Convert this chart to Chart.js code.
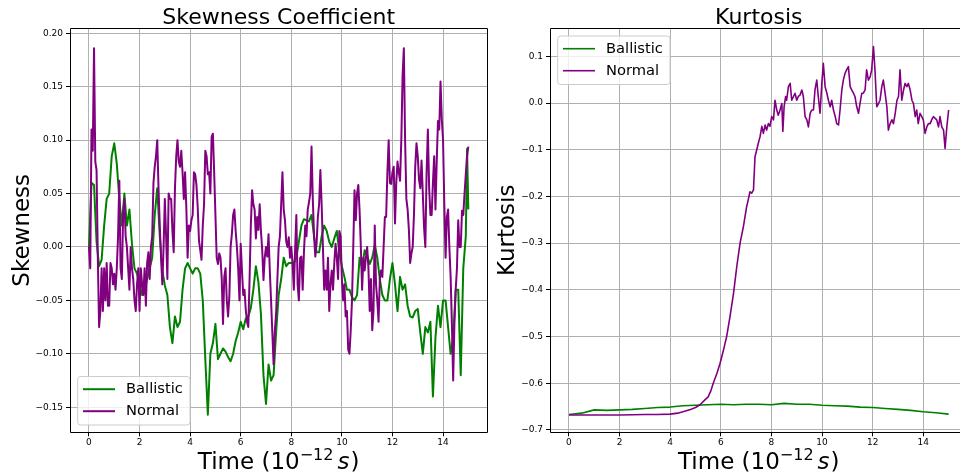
<!DOCTYPE html>
<html><head><meta charset="utf-8">
<script src="https://cdn.jsdelivr.net/npm/chart.js@4.4.0/dist/chart.umd.min.js"></script>
<style>
html,body{margin:0;padding:0;background:#fff;overflow:hidden;}
#wrap{position:relative;width:960px;height:474px;overflow:hidden;background:#fff;}
canvas{position:absolute;top:0;}
</style></head><body>
<div id="wrap">
<canvas id="c1" width="490" height="474" style="left:0;width:490px;height:474px"></canvas>
<canvas id="c2" width="480" height="474" style="left:490px;width:480px;height:474px"></canvas>
</div>
<script>
const FAMILY = "'DejaVu Sans', 'Liberation Sans', sans-serif";

// ---------- tick labels ----------
const xTickValues = [0, 2, 4, 6, 8, 10, 12, 14];
const xTickLabels = ['0', '2', '4', '6', '8', '10', '12', '14'];
const skewTickValues = [-0.15, -0.10, -0.05, 0.00, 0.05, 0.10, 0.15, 0.20];
const skewTickLabels = ['\u22120.15', '\u22120.10', '\u22120.05', '0.00', '0.05', '0.10', '0.15', '0.20'];
const kurtTickValues = [-0.7, -0.6, -0.5, -0.4, -0.3, -0.2, -0.1, 0.0, 0.1];
const kurtTickLabels = ['\u22120.7', '\u22120.6', '\u22120.5', '\u22120.4', '\u22120.3', '\u22120.2', '\u22120.1', '0.0', '0.1'];

// ---------- series ----------
const seriesNames = ['Ballistic', 'Normal'];
const seriesColors = ['#008000', '#800080'];

// Normal skewness, sampled every 0.05 (t = 0 ... 15)
const normalSkewStep = 0.05;
const normalSkew = [
  0.0, -0.02, 0.11, 0.09, 0.186, 0.08, 0.072, -0.01, -0.075, -0.06, -0.02, -0.06, -0.02, -0.05, -0.015, -0.055, -0.055, -0.015, -0.02, -0.035, -0.025,
  -0.04, -0.02, 0.01, 0.062, -0.02, -0.03, 0.03, 0.045, 0.01, 0.0, -0.02, -0.04, 0.0, -0.02, -0.03, -0.05, -0.06, -0.035, -0.02, -0.06,
  -0.02, -0.035, -0.045, -0.02, -0.055, -0.015, -0.005, -0.03, 0.0, 0.01, 0.06, 0.075, 0.085, 0.10, 0.055, 0.02, -0.01, -0.035, 0.0, 0.045,
  0.01, -0.03, 0.05, 0.045, 0.045, 0.015, -0.005, 0.055, 0.085, 0.10, 0.08, 0.075, 0.09, 0.07, 0.045, 0.07, 0.037, -0.01, 0.02, 0.015,
  0.025, 0.03, 0.07, 0.068, 0.058, 0.037, 0.006, -0.003, -0.012, 0.02, 0.04, 0.09, 0.085, 0.068, 0.07, 0.05, 0.103, 0.106, 0.07, 0.03,
  -0.01, -0.016, -0.006, -0.01, -0.03, -0.072, -0.028, -0.02, -0.05, -0.065, -0.047, 0.0, 0.012, 0.03, 0.035, 0.015, 0.0, -0.02, -0.05, 0.003,
  -0.022, -0.045, -0.04, -0.059, -0.07, -0.075, -0.03, 0.02, 0.053, 0.04, 0.035, 0.008, 0.028, 0.016, 0.04, 0.015, -0.003, -0.031, -0.01, 0.0,
  -0.009, 0.012, -0.022, -0.05, -0.08, -0.11, -0.078, -0.062, -0.03, 0.0, 0.01, 0.04, 0.07, 0.035, 0.025, 0.005, 0.0, 0.009, -0.01, 0.0,
  -0.015, -0.04, -0.003, 0.03, -0.035, -0.05, -0.01, -0.009, -0.04, -0.005, 0.02, 0.01, 0.035, 0.042, 0.05, 0.094, 0.045, 0.01, -0.009, 0.003,
  0.028, 0.04, 0.072, 0.04, 0.0, -0.04, -0.022, -0.04, -0.01, -0.06, -0.035, -0.022, -0.04, -0.015, 0.003, -0.01, -0.03, 0.015, 0.01, -0.03,
  -0.05, -0.035, -0.065, -0.06, -0.096, -0.1, -0.078, -0.05, 0.0, 0.053, 0.025, 0.05, 0.058, 0.034, 0.0, -0.04, -0.01, -0.022, -0.01, 0.0,
  -0.02, -0.06, -0.03, -0.078, -0.06, 0.02, -0.035, -0.05, -0.07, -0.03, -0.022, -0.028, 0.0, 0.028, 0.028, 0.07, 0.1, 0.06, 0.059, 0.07,
  0.075, 0.022, 0.06, 0.08, 0.07, 0.062, 0.1, 0.16, 0.186, 0.1, 0.045, 0.035, 0.016, -0.015, -0.006, 0.0, 0.03, 0.075, 0.097, 0.085,
  0.063, 0.055, 0.081, 0.05, 0.018, 0.0, 0.07, 0.11, 0.056, 0.03, 0.03, 0.06, 0.085, 0.035, 0.08, 0.118, 0.11, 0.155, 0.12, 0.1,
  0.04, -0.01, 0.028, 0.035, 0.0, -0.028, -0.072, -0.125, -0.072, -0.04, -0.02, 0.025, 0.0, 0.0, 0.034, 0.03, 0.05, 0.068, 0.085, 0.094
];

// Ballistic skewness, [time, value]
const ballisticSkew = [
  [0.0, 0.0], [0.1, 0.06], [0.2, 0.058], [0.3, 0.005], [0.4, -0.018], [0.5, -0.012], [0.6, 0.02], [0.7, 0.045], [0.8, 0.05], [0.9, 0.085],
  [1.0, 0.097], [1.1, 0.078], [1.2, 0.045], [1.3, 0.02], [1.4, 0.05], [1.5, 0.02], [1.6, 0.035], [1.7, 0.003], [1.8, -0.02], [1.9, -0.025],
  [2.0, -0.035], [2.1, -0.045], [2.2, -0.04], [2.3, -0.03], [2.4, -0.02], [2.5, -0.01], [2.6, 0.03], [2.7, 0.055], [2.8, 0.01], [2.9, -0.022],
  [3.0, -0.036], [3.1, -0.045], [3.2, -0.075], [3.3, -0.09], [3.4, -0.065], [3.5, -0.075], [3.6, -0.07], [3.7, -0.04], [3.8, -0.02], [3.9, -0.015],
  [4.0, -0.02], [4.1, -0.025], [4.2, -0.02], [4.3, -0.02], [4.4, -0.025], [4.5, -0.05], [4.6, -0.105], [4.7, -0.157], [4.8, -0.1], [4.9, -0.09],
  [5.0, -0.072], [5.1, -0.105], [5.2, -0.1], [5.3, -0.095], [5.4, -0.098], [5.5, -0.103], [5.6, -0.107], [5.7, -0.1], [5.8, -0.088], [5.9, -0.08],
  [6.0, -0.07], [6.1, -0.077], [6.2, -0.067], [6.3, -0.065], [6.4, -0.057], [6.5, -0.04], [6.6, -0.018], [6.7, -0.033], [6.8, -0.063], [6.9, -0.12],
  [7.0, -0.147], [7.1, -0.11], [7.2, -0.125], [7.3, -0.12], [7.4, -0.08], [7.5, -0.045], [7.6, -0.03], [7.7, -0.01], [7.8, -0.018], [7.9, -0.015],
  [8.0, -0.015], [8.1, -0.015], [8.2, -0.01], [8.3, 0.005], [8.4, 0.02], [8.5, 0.026], [8.6, 0.025], [8.7, 0.024], [8.8, 0.03], [8.9, 0.01],
  [9.0, -0.005], [9.1, -0.005], [9.2, 0.01], [9.3, 0.02], [9.4, 0.015], [9.5, 0.005], [9.6, 0.0], [9.7, 0.008], [9.8, 0.015], [9.9, -0.005],
  [10.0, -0.018], [10.1, -0.028], [10.2, -0.04], [10.3, -0.04], [10.4, -0.047], [10.5, -0.05], [10.6, -0.045], [10.7, -0.01], [10.8, -0.02], [10.9, -0.003],
  [11.0, -0.008], [11.1, -0.016], [11.2, -0.01], [11.3, 0.002], [11.4, -0.01], [11.5, -0.03], [11.6, -0.045], [11.7, -0.05], [11.8, -0.05], [11.9, -0.03],
  [12.0, -0.015], [12.1, -0.035], [12.2, -0.06], [12.3, -0.028], [12.4, -0.04], [12.5, -0.035], [12.6, -0.055], [12.7, -0.065], [12.8, -0.066], [12.9, -0.06],
  [13.0, -0.058], [13.1, -0.08], [13.2, -0.1], [13.3, -0.075], [13.4, -0.08], [13.5, -0.07], [13.6, -0.14], [13.7, -0.085], [13.8, -0.055], [13.9, -0.075],
  [14.0, -0.05], [14.1, -0.05], [14.2, -0.075], [14.3, -0.1], [14.4, -0.085], [14.5, -0.04], [14.6, -0.04], [14.7, -0.12], [14.8, -0.02], [14.9, 0.01],
  [14.95, 0.092], [15.0, 0.035]
];

// Ballistic kurtosis, sampled every 0.5 (t = 0 ... 15)
const ballisticKurtStep = 0.5;
const ballisticKurt = [
  -0.667, -0.664, -0.657, -0.658, -0.657, -0.656, -0.654, -0.652, -0.651, -0.648, -0.647,
  -0.646, -0.645, -0.646, -0.645, -0.645, -0.646, -0.643, -0.645, -0.645, -0.647,
  -0.648, -0.649, -0.651, -0.652, -0.654, -0.656, -0.658, -0.661, -0.663, -0.666
];

// Normal kurtosis, [time, value]
const normalKurt = [
  [0, -0.668], [1, -0.668], [2, -0.668], [3, -0.667], [3.5, -0.667], [4.0, -0.666], [4.3, -0.664], [4.5, -0.661], [4.8, -0.656], [5.0, -0.652],
  [5.2, -0.645], [5.4, -0.634], [5.5, -0.629], [5.6, -0.617], [5.7, -0.600], [5.85, -0.578], [5.97, -0.557], [6.1, -0.53], [6.23, -0.50], [6.36, -0.458],
  [6.5, -0.408], [6.63, -0.35], [6.76, -0.30], [6.89, -0.265], [7.02, -0.222], [7.08, -0.208], [7.15, -0.19], [7.22, -0.193], [7.29, -0.186], [7.35, -0.115],
  [7.42, -0.10], [7.48, -0.086], [7.55, -0.072], [7.62, -0.05], [7.68, -0.065], [7.75, -0.047], [7.81, -0.058], [7.88, -0.044], [7.94, -0.05], [8.01, -0.029],
  [8.08, -0.036], [8.14, 0.006], [8.21, -0.015], [8.27, -0.026], [8.34, -0.015], [8.41, -0.001], [8.45, -0.061], [8.5, -0.008], [8.56, 0.014], [8.6, 0.006],
  [8.67, 0.035], [8.74, 0.042], [8.8, 0.006], [8.87, 0.014], [8.93, 0.021], [9.0, 0.006], [9.06, 0.014], [9.13, 0.017], [9.2, 0.028], [9.26, 0.014],
  [9.33, -0.029], [9.4, -0.036], [9.46, -0.051], [9.53, -0.022], [9.59, -0.015], [9.66, -0.015], [9.72, 0.028], [9.79, 0.049], [9.85, 0.014], [9.92, -0.022],
  [9.99, 0.042], [10.05, 0.085], [10.12, 0.035], [10.19, 0.021], [10.25, 0.006], [10.32, -0.008], [10.38, 0.006], [10.45, -0.015], [10.52, -0.029], [10.58, -0.044],
  [10.65, -0.047], [10.71, -0.015], [10.78, 0.028], [10.84, 0.049], [10.91, 0.064], [10.97, 0.071], [11.04, 0.078], [11.11, 0.035], [11.17, 0.028], [11.24, 0.021],
  [11.3, 0.014], [11.37, -0.008], [11.44, -0.022], [11.5, -0.001], [11.57, 0.021], [11.63, 0.021], [11.7, 0.028], [11.76, 0.071], [11.83, 0.049], [11.9, 0.056],
  [11.96, 0.071], [12.03, 0.121], [12.09, 0.071], [12.16, -0.008], [12.23, -0.001], [12.29, 0.006], [12.36, 0.035], [12.42, 0.049], [12.49, 0.021], [12.56, -0.008],
  [12.62, -0.058], [12.69, -0.044], [12.76, -0.036], [12.82, -0.044], [12.89, -0.022], [12.96, 0.006], [13.02, 0.014], [13.08, 0.071], [13.15, 0.006], [13.22, 0.028],
  [13.28, 0.042], [13.35, 0.035], [13.41, 0.042], [13.48, 0.028], [13.55, 0.006], [13.61, -0.001], [13.68, -0.029], [13.74, -0.015], [13.8, -0.044], [13.87, -0.022],
  [13.94, -0.029], [14.0, -0.036], [14.07, -0.065], [14.14, -0.051], [14.2, -0.044], [14.27, -0.044], [14.33, -0.036], [14.4, -0.029], [14.47, -0.033], [14.53, -0.036],
  [14.6, -0.051], [14.66, -0.029], [14.73, -0.051], [14.8, -0.058], [14.86, -0.097], [14.93, -0.051], [15.0, -0.015]
];

// ---------- helpers ----------
const fromStep = (vals, step) => vals.map((v, i) => ({ x: +(i * step).toFixed(3), y: v }));
const fromPairs = (pairs) => pairs.map(([x, y]) => ({ x, y }));

function decorPlugin(opts) {
  return {
    id: 'mplDecor',
    afterDraw(chart) {
      const ctx = chart.ctx, a = chart.chartArea;
      ctx.save();
      // axes frame (four spines)
      ctx.strokeStyle = '#000';
      ctx.lineWidth = 1;
      const L = Math.floor(a.left) + 0.5, T = Math.floor(a.top) + 0.5;
      const R = Math.floor(a.right) + 0.5, B = Math.floor(a.bottom) + 0.5;
      ctx.beginPath();
      ctx.moveTo(L, T); ctx.lineTo(R, T); ctx.lineTo(R, B); ctx.lineTo(L, B); ctx.closePath();
      ctx.stroke();

      const cx = (a.left + a.right) / 2;
      ctx.fillStyle = '#000';
      // title
      ctx.textAlign = 'center';
      ctx.textBaseline = 'alphabetic';
      ctx.font = `22px ${FAMILY}`;
      ctx.fillText(opts.title, cx, 24);

      // y label
      ctx.save();
      ctx.translate(opts.ylabelX, (a.top + a.bottom) / 2);
      ctx.rotate(-Math.PI / 2);
      ctx.font = `23px ${FAMILY}`;
      ctx.textAlign = 'center';
      ctx.fillText(opts.ylabel, 0, 0);
      ctx.restore();

      // x label: Time (10^{-12} s)
      const parts = [
        { t: 'Time (10', f: `23px ${FAMILY}`, dy: 0, gap: 0 },
        { t: '\u221212', f: `16px ${FAMILY}`, dy: -9, gap: 4 },
        { t: 's', f: `italic 23px ${FAMILY}`, dy: 0, gap: 1 },
        { t: ')', f: `23px ${FAMILY}`, dy: 0, gap: 0 }
      ];
      let total = 0;
      parts.forEach(p => { ctx.font = p.f; p.w = ctx.measureText(p.t).width; total += p.w + p.gap; });
      let x = cx - total / 2;
      ctx.textAlign = 'left';
      parts.forEach(p => { ctx.font = p.f; ctx.fillText(p.t, x, 469 + p.dy); x += p.w + p.gap; });

      // legend
      const bw = 112.3, bh = 48.5;
      const bx = a.left + 7.7;
      const by = opts.legend === 'lower' ? a.bottom - 7.3 - bh : a.top + 7.7;
      const r = 3;
      ctx.beginPath();
      ctx.moveTo(bx + r, by);
      ctx.lineTo(bx + bw - r, by); ctx.arcTo(bx + bw, by, bx + bw, by + r, r);
      ctx.lineTo(bx + bw, by + bh - r); ctx.arcTo(bx + bw, by + bh, bx + bw - r, by + bh, r);
      ctx.lineTo(bx + r, by + bh); ctx.arcTo(bx, by + bh, bx, by + bh - r, r);
      ctx.lineTo(bx, by + r); ctx.arcTo(bx, by, bx + r, by, r);
      ctx.closePath();
      ctx.fillStyle = 'rgba(255,255,255,0.8)';
      ctx.fill();
      ctx.strokeStyle = '#cccccc';
      ctx.lineWidth = 1;
      ctx.stroke();
      ctx.font = `14.7px ${FAMILY}`;
      ctx.textBaseline = 'middle';
      ctx.textAlign = 'left';
      const rows = [12.7, 34.7];
      chart.data.datasets.forEach((ds, i) => {
        const ly = by + rows[i];
        ctx.strokeStyle = ds.borderColor;
        ctx.lineWidth = ds.borderWidth;
        ctx.beginPath();
        ctx.moveTo(bx + 5.3, ly); ctx.lineTo(bx + 37.3, ly);
        ctx.stroke();
        ctx.fillStyle = '#000';
        ctx.fillText(ds.label, bx + 48.3, ly);
      });
      ctx.restore();
    }
  };
}

function makeScales(yMin, yMax, yTickValues, yTickLabels, yAxisWidth) {
  const grid = { color: '#b0b0b0', lineWidth: 1, drawTicks: true, tickLength: 4, tickColor: '#000', tickWidth: 1 };
  const tickFont = { family: FAMILY, size: 9 };
  return {
    x: {
      type: 'linear', min: -0.75, max: 15.75,
      afterBuildTicks: s => { s.ticks = xTickValues.map(v => ({ value: v })); },
      afterFit: s => { s.height = 474 - 432.3; },
      ticks: { callback: (v, i) => xTickLabels[i], font: tickFont, color: '#000', padding: 1, maxRotation: 0, autoSkip: false },
      grid: grid,
      border: { display: false }
    },
    y: {
      type: 'linear', min: yMin, max: yMax,
      afterBuildTicks: s => { s.ticks = yTickValues.map(v => ({ value: v })); },
      afterFit: s => { s.width = yAxisWidth; },
      ticks: { callback: (v, i) => yTickLabels[i], font: tickFont, color: '#000', padding: 3, autoSkip: false },
      grid: grid,
      border: { display: false }
    }
  };
}

function lineDs(label, color, data, width, order) {
  return { label, data, borderColor: color, backgroundColor: color, borderWidth: width,
           pointRadius: 0, tension: 0, fill: false, borderJoinStyle: 'round', order };
}

const baseOpts = {
  responsive: false, animation: false, events: [],
  plugins: { legend: { display: false }, tooltip: { enabled: false }, title: { display: false } }
};

new Chart(document.getElementById('c1'), {
  type: 'line',
  data: {
    datasets: [
      lineDs(seriesNames[0], seriesColors[0], fromPairs(ballisticSkew), 2, 1),
      lineDs(seriesNames[1], seriesColors[1], fromStep(normalSkew, normalSkewStep), 2, 0)
    ]
  },
  options: Object.assign({}, baseOpts, {
    layout: { padding: { top: 28.3, right: 2.7, left: 0, bottom: 0 } },
    scales: makeScales(-0.1735, 0.2047, skewTickValues, skewTickLabels, 70)
  }),
  plugins: [decorPlugin({ title: 'Skewness Coefficient', ylabel: 'Skewness', ylabelX: 29, legend: 'lower' })]
});

new Chart(document.getElementById('c2'), {
  type: 'line',
  data: {
    datasets: [
      lineDs(seriesNames[0], seriesColors[0], fromStep(ballisticKurt, ballisticKurtStep), 1.6, 1),
      lineDs(seriesNames[1], seriesColors[1], fromPairs(normalKurt), 1.6, 0)
    ]
  },
  options: Object.assign({}, baseOpts, {
    layout: { padding: { top: 28.3, right: 2.4, left: 0, bottom: 0 } },
    scales: makeScales(-0.705, 0.16, kurtTickValues, kurtTickLabels, 60)
  }),
  plugins: [decorPlugin({ title: 'Kurtosis', ylabel: 'Kurtosis', ylabelX: 23.7, legend: 'upper' })]
});
</script>
</body></html>
